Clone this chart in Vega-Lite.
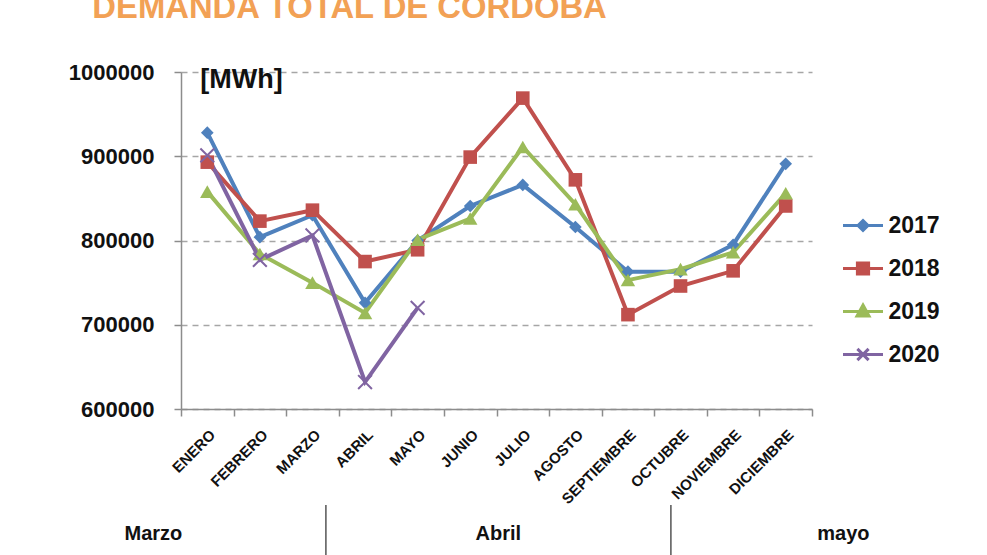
{
  "$schema": "https://vega.github.io/schema/vega-lite/v6.json",
  "padding": {"left": 68, "top": -8, "right": 0, "bottom": 0},
  "background": "white",
  "bounds": "flush",
  "spacing": 96,
  "config": {
    "view": {"stroke": null},
    "font": "Liberation Sans, Arial"
  },
  "title": {
    "text": "DEMANDA TOTAL DE CORDOBA",
    "anchor": "start",
    "frame": "bounds",
    "dx": 24,
    "offset": 36,
    "fontSize": 32.8,
    "fontWeight": "bold",
    "font": "Liberation Sans, Arial",
    "color": "#F2A155"
  },
  "datasets": {
    "demanda": [
      {"mes": "ENERO", "anio": "2017", "v": 928000},
      {"mes": "FEBRERO", "anio": "2017", "v": 804000},
      {"mes": "MARZO", "anio": "2017", "v": 830000},
      {"mes": "ABRIL", "anio": "2017", "v": 726000},
      {"mes": "MAYO", "anio": "2017", "v": 800000},
      {"mes": "JUNIO", "anio": "2017", "v": 841000},
      {"mes": "JULIO", "anio": "2017", "v": 866000},
      {"mes": "AGOSTO", "anio": "2017", "v": 816000},
      {"mes": "SEPTIEMBRE", "anio": "2017", "v": 763000},
      {"mes": "OCTUBRE", "anio": "2017", "v": 763000},
      {"mes": "NOVIEMBRE", "anio": "2017", "v": 795000},
      {"mes": "DICIEMBRE", "anio": "2017", "v": 891000},
      {"mes": "ENERO", "anio": "2018", "v": 893000},
      {"mes": "FEBRERO", "anio": "2018", "v": 823000},
      {"mes": "MARZO", "anio": "2018", "v": 836000},
      {"mes": "ABRIL", "anio": "2018", "v": 775000},
      {"mes": "MAYO", "anio": "2018", "v": 789000},
      {"mes": "JUNIO", "anio": "2018", "v": 899000},
      {"mes": "JULIO", "anio": "2018", "v": 969000},
      {"mes": "AGOSTO", "anio": "2018", "v": 872000},
      {"mes": "SEPTIEMBRE", "anio": "2018", "v": 712000},
      {"mes": "OCTUBRE", "anio": "2018", "v": 746000},
      {"mes": "NOVIEMBRE", "anio": "2018", "v": 764000},
      {"mes": "DICIEMBRE", "anio": "2018", "v": 841000},
      {"mes": "ENERO", "anio": "2019", "v": 858000},
      {"mes": "FEBRERO", "anio": "2019", "v": 784000},
      {"mes": "MARZO", "anio": "2019", "v": 750000},
      {"mes": "ABRIL", "anio": "2019", "v": 714000},
      {"mes": "MAYO", "anio": "2019", "v": 801000},
      {"mes": "JUNIO", "anio": "2019", "v": 826000},
      {"mes": "JULIO", "anio": "2019", "v": 911000},
      {"mes": "AGOSTO", "anio": "2019", "v": 843000},
      {"mes": "SEPTIEMBRE", "anio": "2019", "v": 753000},
      {"mes": "OCTUBRE", "anio": "2019", "v": 766000},
      {"mes": "NOVIEMBRE", "anio": "2019", "v": 786000},
      {"mes": "DICIEMBRE", "anio": "2019", "v": 856000},
      {"mes": "ENERO", "anio": "2020", "v": 901000},
      {"mes": "FEBRERO", "anio": "2020", "v": 777000},
      {"mes": "MARZO", "anio": "2020", "v": 806000},
      {"mes": "ABRIL", "anio": "2020", "v": 632000},
      {"mes": "MAYO", "anio": "2020", "v": 720000}
    ]
  },
  "vconcat": [
    {
      "width": 631,
      "height": 337,
      "layer": [
        {
          "data": {"name": "demanda"},
          "mark": {"type": "line", "strokeWidth": 4},
          "encoding": {
            "x": {
              "field": "mes", "type": "nominal", "bandPosition": 0.5,
              "scale": {"type": "band", "paddingInner": 0, "paddingOuter": 0,
                "domain": ["ENERO","FEBRERO","MARZO","ABRIL","MAYO","JUNIO","JULIO","AGOSTO","SEPTIEMBRE","OCTUBRE","NOVIEMBRE","DICIEMBRE"]},
              "axis": {
                "title": null, "labelAngle": -45, "labelFontSize": 15, "labelFontWeight": "bold",
                "labelColor": "#111", "domainColor": "#8c8c8c", "domainWidth": 1.5,
                "tickColor": "#8c8c8c", "tickWidth": 1.5, "tickSize": 7, "tickBand": "extent",
                "labelPadding": 11, "grid": false
              }
            },
            "y": {
              "field": "v", "type": "quantitative",
              "scale": {"domain": [600000, 1000000], "nice": false, "zero": false},
              "axis": {
                "title": null, "values": [600000, 700000, 800000, 900000, 1000000], "format": "d",
                "labelFontSize": 22, "labelFontWeight": "bold", "labelColor": "#111",
                "grid": true, "gridDash": [6, 5], "gridColor": "#a6a6a6", "gridWidth": 1.5,
                "domainColor": "#8c8c8c", "domainWidth": 1.5, "tickColor": "#8c8c8c", "tickWidth": 1.5,
                "tickSize": 7, "labelPadding": 20
              }
            },
            "color": {
              "field": "anio", "type": "nominal",
              "scale": {"domain": ["2017", "2018", "2019", "2020"], "range": ["#4F81BD", "#C0504D", "#9BBB59", "#8064A2"]},
              "legend": {
                "title": null, "orient": "none", "legendX": 660.5, "legendY": 132, "padding": 0,
                "labelFontSize": 23, "labelFontWeight": "bold", "labelColor": "#111", "labelOffset": 4,
                "symbolSize": 1600, "rowPadding": 9, "symbolStrokeWidth": 3,
                "encode": {
                  "symbols": {
                    "update": {
                      "shape": {"signal": "datum.value === '2017' ? 'M-1,0L1,0M0,-0.25L0.25,0L0,0.25L-0.25,0Z' : datum.value === '2018' ? 'M-1,0L1,0M-0.28,-0.28L0.28,-0.28L0.28,0.28L-0.28,0.28Z' : datum.value === '2019' ? 'M-1,0L1,0M0,-0.32L0.3,0.22L-0.3,0.22Z' : 'M-1,0L1,0M-0.28,-0.28L0.28,0.28M0.28,-0.28L-0.28,0.28'"},
                      "fill": {"signal": "datum.value === '2017' ? '#4F81BD' : datum.value === '2018' ? '#C0504D' : datum.value === '2019' ? '#9BBB59' : 'transparent'"},
                      "stroke": {"signal": "datum.value === '2017' ? '#4F81BD' : datum.value === '2018' ? '#C0504D' : datum.value === '2019' ? '#9BBB59' : '#8064A2'"},
                      "strokeWidth": {"value": 3},
                      "size": {"value": 1600},
                      "opacity": {"value": 1}
                    }
                  }
                }
              }
            }
          }
        },
        {
          "data": {"name": "demanda"},
          "transform": [{"filter": "datum.anio != '2020'"}],
          "mark": {"type": "point", "filled": true, "opacity": 1},
          "encoding": {
            "x": {"field": "mes", "type": "nominal", "bandPosition": 0.5},
            "y": {"field": "v", "type": "quantitative"},
            "color": {"field": "anio", "type": "nominal", "legend": null},
            "shape": {"field": "anio", "type": "nominal", "legend": null,
              "scale": {"domain": ["2017", "2018", "2019"], "range": ["diamond", "square", "triangle-up"]}},
            "size": {"field": "anio", "type": "nominal", "legend": null,
              "scale": {"domain": ["2017", "2018", "2019"], "range": [160, 210, 230]}}
          }
        },
        {
          "data": {"name": "demanda"},
          "transform": [{"filter": "datum.anio == '2020'"}],
          "mark": {"type": "point", "shape": "M-1,-1L1,1M1,-1L-1,1", "filled": false, "strokeWidth": 2, "size": 190, "opacity": 1},
          "encoding": {
            "x": {"field": "mes", "type": "nominal", "bandPosition": 0.5},
            "y": {"field": "v", "type": "quantitative"},
            "color": {"field": "anio", "type": "nominal", "legend": null}
          }
        },
        {
          "data": {"values": [{"mes": "ENERO", "v": 990500, "t": "[MWh]"}]},
          "mark": {"type": "text", "align": "left", "dx": -7, "fontSize": 27, "fontWeight": "bold", "color": "#111"},
          "encoding": {
            "x": {"field": "mes", "type": "nominal", "bandPosition": 0.5},
            "y": {"field": "v", "type": "quantitative"},
            "text": {"field": "t"}
          }
        }
      ]
    },
    {
      "width": 631,
      "height": 58,
      "layer": [
        {
          "data": {"values": [{"mes": "Marzo", "n": 3}, {"mes": "Abril", "n": 4}, {"mes": "mayo", "n": 5}]},
          "mark": {"type": "text", "fontSize": 20, "fontWeight": "bold", "color": "#111"},
          "encoding": {
            "x": {"field": "n", "type": "quantitative", "scale": {"domain": [3.08, 4.909], "nice": false, "zero": false}, "axis": null},
            "text": {"field": "mes"}
          }
        },
        {
          "data": {"values": [{"limite": 3.5}, {"limite": 4.5}]},
          "mark": {"type": "rule", "color": "#555", "strokeWidth": 1.5},
          "encoding": {
            "x": {"field": "limite", "type": "quantitative", "axis": null}
          }
        }
      ]
    }
  ]
}
